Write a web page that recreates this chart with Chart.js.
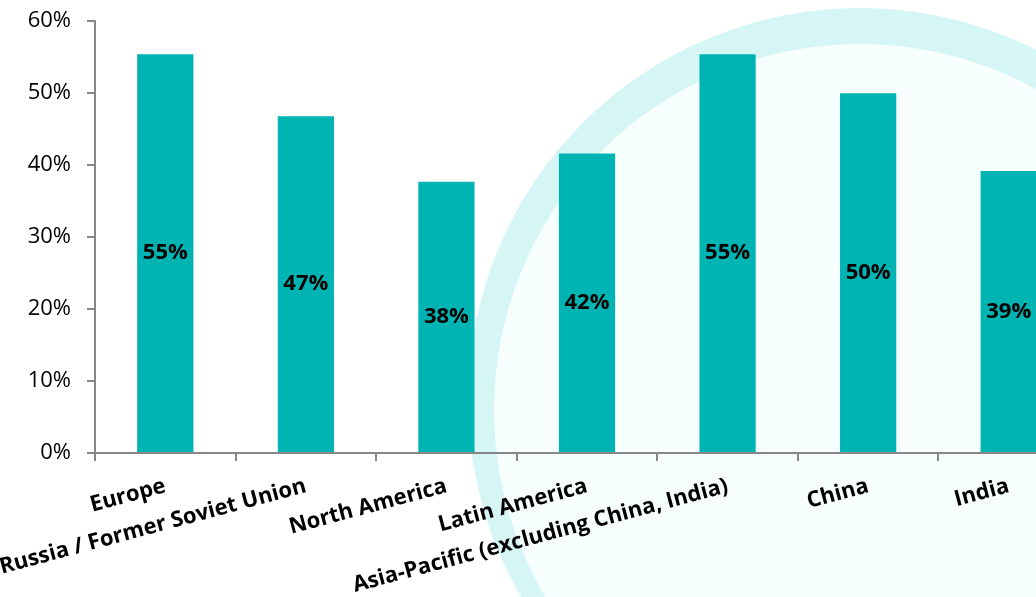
<!DOCTYPE html>
<html>
<head>
<meta charset="utf-8">
<script src="https://cdn.jsdelivr.net/npm/chart.js@4/dist/chart.umd.min.js"></script>
<style>
  html, body { margin: 0; padding: 0; background: #fff; overflow: hidden; }
  #wrap { position: absolute; left: 0; top: -8px; width: 1080px; height: 605px; }
</style>
</head>
<body>
<div id="wrap"><canvas id="regionChart"></canvas></div>
<script>
var regions = ['Europe', 'Russia / Former Soviet Union', 'North America', 'Latin America',
    'Asia-Pacific (excluding China, India)', 'China', 'India'];
var shares = [55.4, 46.8, 37.7, 41.6, 55.4, 50.0, 39.2];
var shareLabels = ['55%', '47%', '38%', '42%', '55%', '50%', '39%'];

var barColor = '#00B4B4';
var axisColor = '#878787';

// faint logo in the background (canvas sits 8px above the page)
var watermark = {
    id: 'watermark',
    beforeDraw: function(chart) {
        var c = chart.ctx;
        c.save();
        c.beginPath();
        c.arc(860, 408, 392, 0, Math.PI * 2);
        c.fillStyle = '#d6f5f5';
        c.fill();
        c.beginPath();
        c.arc(860, 418, 366, 0, Math.PI * 2);
        c.fillStyle = '#f7fefe';
        c.fill();
        c.restore();
    }
};

var barValues = {
    id: 'barValues',
    afterDatasetsDraw: function(chart) {
        var c = chart.ctx;
        var meta = chart.getDatasetMeta(0);
        c.save();
        c.font = 'bold 22px "Open Sans"';
        c.fillStyle = '#000';
        c.textAlign = 'center';
        c.textBaseline = 'middle';
        meta.data.forEach(function(bar, i) {
            c.fillText(shareLabels[i], bar.x, (bar.y + bar.base) / 2);
        });
        c.restore();
    }
};

var ctx = document.getElementById('regionChart').getContext('2d');
var myChart = new Chart(ctx, {
    type: 'bar',
    data: {
        labels: regions,
        datasets: [{
            data: shares,
            backgroundColor: barColor,
            categoryPercentage: 1,
            barPercentage: 0.4
        }]
    },
    options: {
        responsive: true,
        maintainAspectRatio: false,
        animation: false,
        layout: { padding: { top: 12, right: 1, left: 0, bottom: 0 } },
        plugins: {
            legend: { display: false },
            tooltip: { enabled: false }
        },
        scales: {
            x: {
                grid: { display: true, drawOnChartArea: false, tickLength: 8, color: axisColor, lineWidth: 2 },
                border: { display: true, color: axisColor, width: 2 },
                ticks: {
                    color: '#000',
                    font: { family: 'Open Sans', size: 22, weight: 'bold' },
                    minRotation: 15,
                    maxRotation: 15,
                    autoSkip: false,
                    padding: 12
                },
                afterFit: function(scale) { scale.height = 144; }
            },
            y: {
                min: 0,
                max: 60,
                grid: { display: true, drawOnChartArea: false, tickLength: 8, color: axisColor, lineWidth: 2 },
                border: { display: true, color: axisColor, width: 2 },
                ticks: {
                    stepSize: 10,
                    color: '#000',
                    font: { family: 'Open Sans', size: 22 },
                    padding: 16,
                    callback: function(v) { return v + '%'; }
                },
                afterFit: function(scale) { scale.width = 95; }
            }
        }
    },
    plugins: [watermark, barValues]
});
</script>
</body>
</html>
